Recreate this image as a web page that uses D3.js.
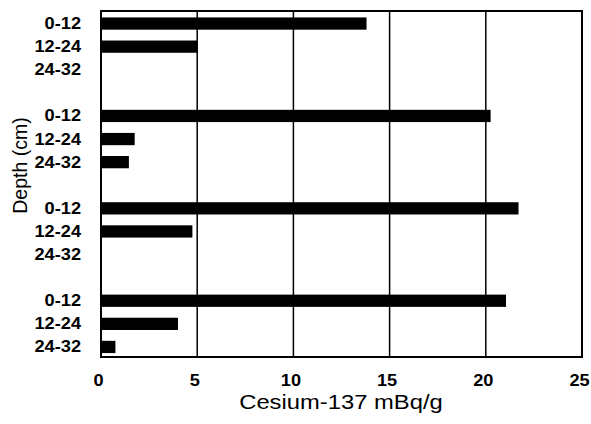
<!DOCTYPE html>
<html>
<head>
<meta charset="utf-8">
<script src="https://cdn.jsdelivr.net/npm/d3@7"></script>
<style>
  body { margin: 0; background: #fff; }
  svg { display: block; font-family: Arial, "Liberation Sans", sans-serif; }
</style>
</head>
<body>
<div class="chart"></div>
<script>
// depth layers, repeated for 4 sites (empty slot between sites)
var depths = ["0-12", "12-24", "24-32"];
var site1 = [13.8, 5.0, 0];
var site2 = [20.25, 1.75, 1.45];
var site3 = [21.7, 4.75, 0];
var site4 = [21.05, 4.0, 0.75];
var sites = [site1, site2, site3, site4];
var xTicks = [0, 5, 10, 15, 20, 25];

var margin = {top: 11, right: 9, bottom: 67, left: 101},
    width = 591 - margin.left - margin.right,
    height = 424 - margin.top - margin.bottom;

// build rows: 3 bars per site + a blank slot between sites
var rows = [];
sites.forEach(function (s, i) {
    depths.forEach(function (d, j) {
        rows.push({key: i + "-" + j, depth: d, value: s[j]});
    });
    if (i < sites.length - 1) rows.push({key: "gap" + i, depth: "", value: null});
});

var xScale = d3.scaleLinear()
    .domain([0, 25])
    .range([0, width]);

var yScale = d3.scaleBand()
    .domain(rows.map(function (d) { return d.key; }))
    .range([1, height + 1.5])
    .paddingInner(0.47)
    .paddingOuter(0.235);

var svg = d3.select(".chart")
    .append("svg")
    .attr("width", 591)
    .attr("height", 424);

var canvas = svg.append("g")
    .attr("transform", "translate(" + margin.left + "," + margin.top + ")");

// the text in the picture is a bit wider than plain Arial
function stretch(sel, k) {
    sel.each(function () {
        var w = this.getComputedTextLength();
        d3.select(this)
            .attr("textLength", w * k)
            .attr("lengthAdjust", "spacingAndGlyphs");
    });
}

// vertical grid lines
canvas.append("g")
    .selectAll("line")
    .data(xTicks.slice(1, -1))
    .enter().append("line")
    .attr("x1", function (d) { return xScale(d); })
    .attr("x2", function (d) { return xScale(d); })
    .attr("y1", 0)
    .attr("y2", height)
    .style("stroke", "#000")
    .style("stroke-width", 1.5);

// bars
canvas.append("g")
    .selectAll("rect")
    .data(rows.filter(function (d) { return d.value; }))
    .enter().append("rect")
    .attr("x", xScale(0))
    .attr("y", function (d) { return yScale(d.key); })
    .attr("width", function (d) { return xScale(d.value) - xScale(0); })
    .attr("height", yScale.bandwidth())
    .style("fill", "#000");

// frame
canvas.append("rect")
    .attr("width", width)
    .attr("height", height)
    .style("fill", "none")
    .style("stroke", "#000")
    .style("stroke-width", 2);

// x axis labels
var xAxis = d3.axisBottom(xScale)
    .tickValues(xTicks)
    .tickSize(0)
    .tickPadding(17);

var gx = canvas.append("g")
    .attr("transform", "translate(-3," + height + ")")
    .call(xAxis);
gx.select(".domain").remove();
gx.selectAll("text")
    .style("font-size", "17px")
    .style("font-weight", "bold")
    .style("font-family", "Arial, 'Liberation Sans', sans-serif")
    .style("fill", "#000")
    .call(stretch, 1.07);

// y axis labels
var yAxis = d3.axisLeft(yScale)
    .tickFormat(function (k) { return rows.find(function (r) { return r.key === k; }).depth; })
    .tickSize(0)
    .tickPadding(20);

var gy = canvas.append("g").call(yAxis);
gy.select(".domain").remove();
gy.selectAll("text")
    .style("font-size", "17px")
    .style("font-weight", "bold")
    .style("font-family", "Arial, 'Liberation Sans', sans-serif")
    .style("fill", "#000")
    .call(stretch, 1.07);

// axis titles
svg.append("text")
    .attr("x", 341)
    .attr("y", 409)
    .attr("text-anchor", "middle")
    .style("font-size", "20.5px")
    .text("Cesium-137 mBq/g")
    .call(stretch, 1.16);

svg.append("text")
    .attr("transform", "translate(27,165.5) rotate(-90)")
    .attr("text-anchor", "middle")
    .style("font-size", "19.5px")
    .text("Depth (cm)");
</script>
</body>
</html>
